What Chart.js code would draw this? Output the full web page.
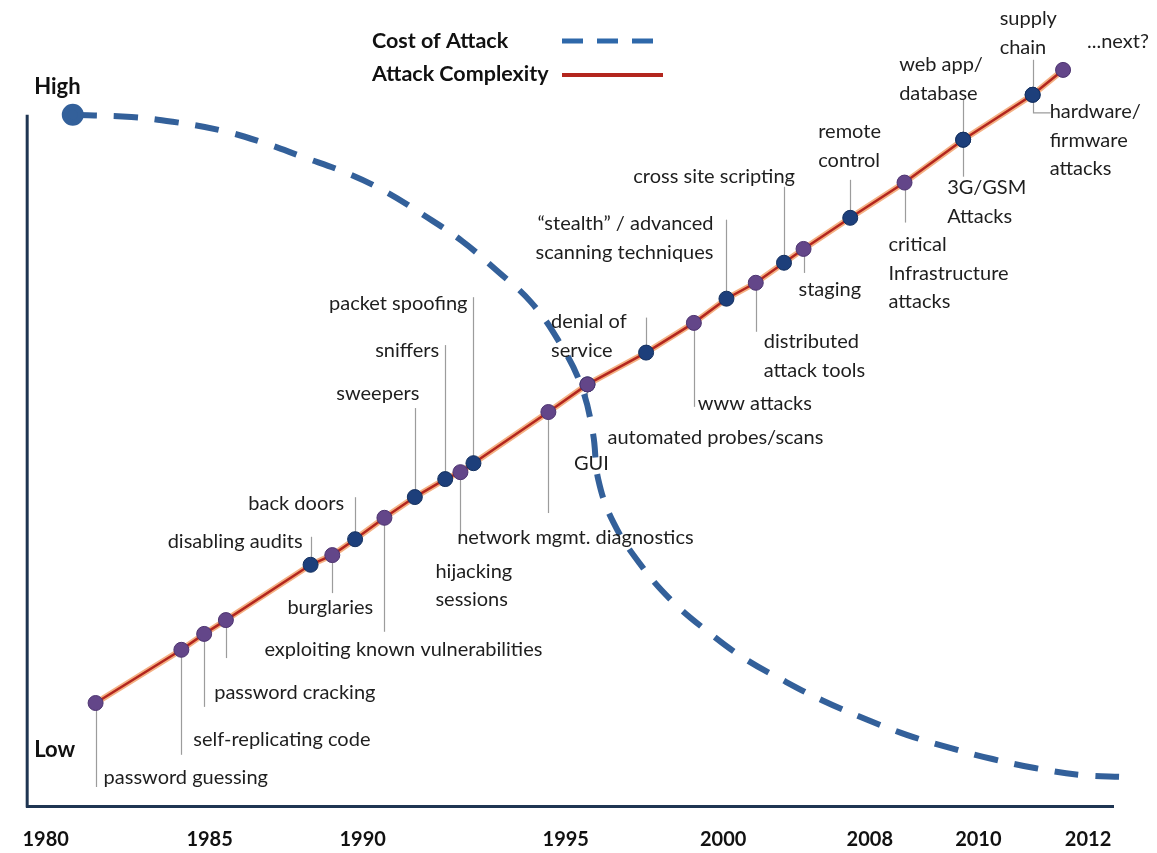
<!DOCTYPE html>
<html>
<head>
<meta charset="utf-8">
<script src="https://cdn.jsdelivr.net/npm/chart.js@4.4.1/dist/chart.umd.min.js"></script>
<style>
  html, body { margin: 0; padding: 0; background: #fff; }
  #chart { display: block; }
</style>
</head>
<body>
<canvas id="chart" width="1157" height="853"></canvas>
<script>
// x = position along the timeline (0-100), y = relative level (0 = Low, 100 = High)
const yearTicks = ["1980", "1985", "1990", "1995", "2000", "2008", "2010", "2012"];
const yearTickPos = [1.7, 16.8, 30.9, 49.6, 64.1, 77.6, 87.6, 97.7];

const levelLabels = ["Low", "High"];
const levelPos = [8.1, 104.1];

// Cost of Attack curve
const costX = [4.2, 9.6, 13.4, 17.7, 21.5, 25.4, 29.4, 33.0, 36.5, 40.0, 43.3, 46.4, 48.9, 51.0,
  52.1, 52.6, 54.0, 56.5, 59.3, 62.7, 66.0, 69.6, 73.2, 77.2, 81.0, 85.0, 88.9, 92.8, 97.0, 100.9, 103.9];
const costY = [100.0, 99.7, 99.0, 97.8, 96.1, 93.9, 91.6, 88.9, 85.5, 81.8, 77.4, 72.9, 67.4, 60.9,
  54.0, 47.2, 41.0, 34.9, 29.8, 25.2, 21.4, 18.2, 15.3, 12.6, 10.3, 8.4, 6.8, 5.5, 4.5, 4.2, 4.05];

// Attack Complexity events
const eventNames = [
  "password guessing", "self-replicating code", "password cracking", "",
  "disabling audits", "burglaries", "back doors", "exploiting known vulnerabilities",
  "sweepers", "sniffers", "hijacking\nsessions", "packet spoofing",
  "network mgmt. diagnostics", "GUI", "automated probes/scans", "denial of\nservice",
  "www attacks", "\u201cstealth\u201d / advanced\nscanning techniques", "distributed\nattack tools", "cross site scripting",
  "staging", "remote\ncontrol", "critical\nInfrastructure\nattacks", "web app/\ndatabase",
  "3G/GSM\nAttacks", "supply\nchain", "hardware/\nfirmware\nattacks", "...next?"
];
const eventX = [6.3, 14.2, 16.3, 18.3, 26.1, 28.1, 30.2, 32.9, 35.7, 38.5, 39.9, 41.1, 48.0, 51.6,
  51.6, 57.0, 61.4, 64.4, 67.1, 69.7, 71.5, 75.8, 80.8, 86.2, 86.2, 92.6, 92.6, 95.4];
const eventY = [14.9, 22.6, 24.9, 26.9, 34.9, 36.3, 38.6, 41.7, 44.7, 47.3, 48.3, 49.6, 57.0, 61.0,
  61.0, 65.6, 69.9, 73.4, 75.7, 78.6, 80.6, 85.1, 90.2, 96.4, 96.4, 102.9, 102.9, 106.5];
const eventKind = ["p", "p", "p", "p", "b", "p", "b", "p", "b", "b", "p", "b", "p", "b",
  "p", "b", "p", "b", "p", "b", "p", "b", "p", "b", "b", "b", "b", "p"];

// label placement: [leader length, text dx, text dy, align, elbow]
const labelLayout = [
  [84, 8, 75, "left"], [105, 12, 90, "left"], [73, 10, 59, "left"], [38, 0, 0, "left"],
  [-28, -8, -23, "right"], [38, -2, 52, "center"], [-42, -11, -36, "right"], [114, 19, 132, "center"],
  [-89, -37, -104, "center"], [-134, -6, -129, "right"], [68, -25, 99, "left"], [-166, -6, -160, "right"],
  [101, 27, 126, "center"], [33, 4, 79, "center"], [0, 20, 53, "left"], [-35, -95, -31, "left"],
  [84, 4, 81, "left"], [-79, -13, -75, "right"], [49, 8, 59, "left"], [-76, 11, -86, "right"],
  [24, -5, 41, "left"], [-38, -32, -86, "left"], [40, -16, 62, "left"], [-40, -64, -75, "left"],
  [37, -16, 48, "left"], [-35, -33, -76, "left"], [18, 17, 17, "left", 17], [0, 24, -28, "left"]
];

const blue = "#33609a";
const navy = "#1d3f7b";
const purple = "#634689";
const red = "#b3261e";
const axisColor = "#1f3552";
const font = "Lato, 'Open Sans', sans-serif";
const lineGap = 28.5;

const costData = costX.map((v, i) => ({ x: v, y: costY[i] }));
const eventData = eventX.map((v, i) => ({ x: v, y: eventY[i] }));

const annotate = {
  id: "annotate",
  beforeDatasetsDraw(chart) {
    const { ctx, scales: { x, y } } = chart;
    ctx.save();

    // left axis only runs up to "High"
    ctx.strokeStyle = axisColor;
    ctx.lineWidth = 3;
    ctx.beginPath();
    ctx.moveTo(x.left, y.getPixelForValue(100));
    ctx.lineTo(x.left, y.bottom + 1.5);
    ctx.stroke();

    ctx.strokeStyle = "#9c9c9c";
    ctx.lineWidth = 1.2;
    eventNames.forEach((name, i) => {
      const lead = labelLayout[i][0];
      const elbow = labelLayout[i][4];
      if (!lead) return;
      const px = Math.round(x.getPixelForValue(eventX[i])) + 0.5;
      const py = y.getPixelForValue(eventY[i]);
      ctx.beginPath();
      ctx.moveTo(px, py);
      ctx.lineTo(px, py + lead);
      if (elbow) ctx.lineTo(px + elbow, py + lead);
      ctx.stroke();
    });
    ctx.restore();
  },
  afterDraw(chart) {
    const { ctx, scales: { x, y } } = chart;
    ctx.save();
    ctx.fillStyle = "#1e1e1e";
    ctx.textBaseline = "middle";
    ctx.font = "20px " + font;
    eventNames.forEach((name, i) => {
      if (!name) return;
      const [, dx, dy, align] = labelLayout[i];
      const px = x.getPixelForValue(eventX[i]);
      const py = y.getPixelForValue(eventY[i]);
      ctx.textAlign = align;
      name.split("\n").forEach((line, k) => {
        ctx.fillText(line, px + dx, py + dy + k * lineGap);
      });
    });

    // High / Low
    ctx.font = "bold 22px " + font;
    ctx.textAlign = "left";
    ctx.fillStyle = "#111";
    levelLabels.forEach((t, i) => {
      ctx.fillText(t, x.left + 7, y.getPixelForValue(levelPos[i]));
    });

    // legend
    ctx.font = "bold 21.5px " + font;
    ctx.fillText("Cost of Attack", 372, 41);
    ctx.fillText("Attack Complexity", 372, 74);
    ctx.lineWidth = 5;
    ctx.strokeStyle = "#2e68aa";
    ctx.setLineDash([21, 14]);
    ctx.beginPath();
    ctx.moveTo(562, 41);
    ctx.lineTo(655, 41);
    ctx.stroke();
    ctx.setLineDash([]);
    ctx.lineWidth = 4;
    ctx.strokeStyle = red;
    ctx.beginPath();
    ctx.moveTo(562, 75);
    ctx.lineTo(663, 75);
    ctx.stroke();
    ctx.restore();
  }
};

new Chart(document.getElementById("chart"), {
  type: "line",
  data: {
    datasets: [
      {
        label: "Cost of Attack",
        data: costData,
        borderColor: blue,
        borderWidth: 6,
        borderDash: [24, 17],
        tension: 0.4,
        pointRadius: (c) => (c.dataIndex === 0 ? 8 : 0),
        pointBackgroundColor: blue,
        pointBorderColor: blue,
        clip: false
      },
      {
        label: "Attack Complexity",
        data: eventData,
        borderColor: red,
        borderWidth: 2.5,
        tension: 0,
        pointRadius: 7.5,
        pointBorderWidth: 1,
        pointBackgroundColor: (c) => (eventKind[c.dataIndex] === "b" ? navy : purple),
        pointBorderColor: (c) => (eventKind[c.dataIndex] === "b" ? "#14305f" : "#4d3470"),
        clip: false
      },
      {
        label: "halo",
        data: eventData,
        borderColor: "rgba(240,150,90,0.75)",
        borderWidth: 6,
        tension: 0,
        pointRadius: 0,
        clip: false
      }
    ]
  },
  options: {
    responsive: false,
    animation: false,
    devicePixelRatio: 1,
    layout: { padding: { left: 26, right: 44, top: 63, bottom: 0 } },
    elements: { line: { capBezierPoints: false } },
    plugins: { legend: { display: false }, tooltip: { enabled: false } },
    scales: {
      x: {
        type: "linear",
        min: 0,
        max: 100,
        grid: { display: false, drawTicks: false },
        border: { display: true, color: axisColor, width: 3 },
        afterBuildTicks: (s) => { s.ticks = yearTickPos.map((v) => ({ value: v })); },
        afterFit: (s) => { s.height = 47; },
        ticks: {
          autoSkip: false,
          maxRotation: 0,
          padding: 22,
          color: "#111",
          font: { family: font, size: 20, weight: "bold" },
          callback: (v) => yearTicks[yearTickPos.indexOf(v)]
        }
      },
      y: {
        type: "linear",
        min: 0,
        max: 107.5,
        grid: { display: false, drawTicks: false },
        border: { display: false },
        ticks: { display: false },
        afterFit: (s) => { s.width = 0; }
      }
    }
  },
  plugins: [annotate]
});
</script>
</body>
</html>
